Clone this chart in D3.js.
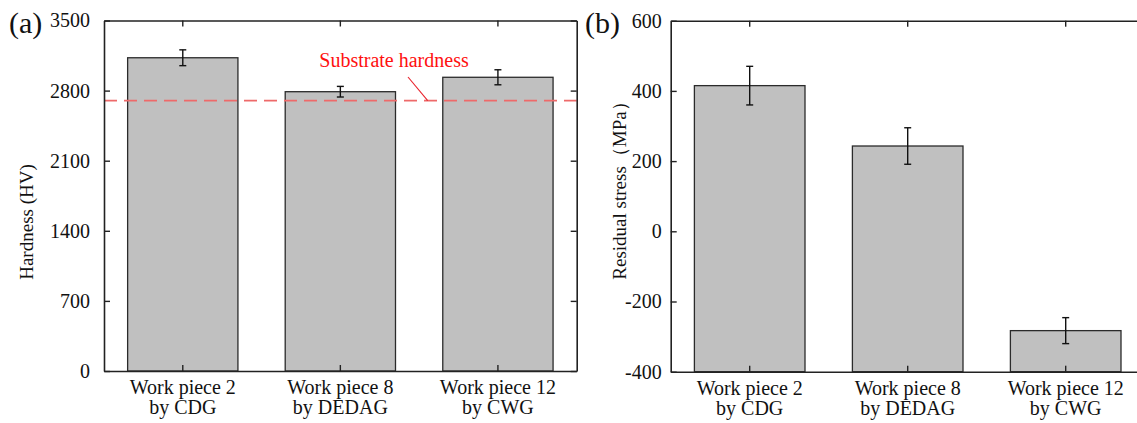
<!DOCTYPE html>
<html><head><meta charset="utf-8">
<script src="https://cdn.jsdelivr.net/npm/d3@7"></script>
<style>body{margin:0;background:#fff}svg{display:block}text{font-family:"Liberation Serif","Times New Roman",serif}</style>
</head><body>
<svg id="c" width="1137" height="423"></svg>
<script>
const categories = ["Work piece 2|by CDG", "Work piece 8|by DEDAG", "Work piece 12|by CWG"];
const hardness = [3128, 2789, 2933];
const hardnessErr = [79, 53, 75];
const substrateHardness = 2700;
const hardnessTicks = [0, 700, 1400, 2100, 2800, 3500];
const stress = [415, 243, -283];
const stressErr = [55, 52, 37];
const stressTicks = [-400, -200, 0, 200, 400, 600];

const svg = d3.select("#c");
const FS = 20;

function panel(o) {
  const g = svg.append("g");
  const x = d3.scaleBand().domain(categories).range([o.left, o.right]).paddingInner(0.3).paddingOuter(0.15);
  const y = d3.scaleLinear().domain(o.domain).range([o.bottom, o.top]);
  const base = o.domain[0];
  // bars
  g.selectAll("rect.bar").data(o.values).join("rect")
    .attr("x", (d,i) => x(categories[i]))
    .attr("width", x.bandwidth())
    .attr("y", d => y(d))
    .attr("height", d => y(base) - y(d))
    .attr("fill", "#c0c0c0").attr("stroke", "#2b2b2b").attr("stroke-width", 1.3);
  // error bars
  const cx = i => x(categories[i]) + x.bandwidth()/2;
  const eg = g.selectAll("g.err").data(o.values).join("g");
  eg.append("line").attr("x1", (d,i)=>cx(i)).attr("x2",(d,i)=>cx(i))
    .attr("y1",(d,i)=>y(d+o.errs[i])).attr("y2",(d,i)=>y(d-o.errs[i]));
  eg.append("line").attr("x1",(d,i)=>cx(i)-3.5).attr("x2",(d,i)=>cx(i)+3.5)
    .attr("y1",(d,i)=>y(d+o.errs[i])).attr("y2",(d,i)=>y(d+o.errs[i]));
  eg.append("line").attr("x1",(d,i)=>cx(i)-3.5).attr("x2",(d,i)=>cx(i)+3.5)
    .attr("y1",(d,i)=>y(d-o.errs[i])).attr("y2",(d,i)=>y(d-o.errs[i]));
  eg.selectAll("line").attr("stroke","#111").attr("stroke-width",1.4);

  if (o.extra) o.extra(g, x, y);

  // axes with inward ticks
  const ax = (axis, tr) => {
    const a = g.append("g").attr("transform", tr).call(axis);
    a.select(".domain").attr("stroke","#222").attr("stroke-width",1.6);
    a.selectAll(".tick line").attr("stroke","#222").attr("stroke-width",1.4);
    return a;
  };
  const left = ax(d3.axisLeft(y).tickValues(o.ticks).tickSizeInner(-6).tickSizeOuter(0)
      .tickPadding(o.pad).tickFormat(d => String(d)), `translate(${o.left},0)`);
  left.selectAll(".tick text").attr("font-size", FS).attr("fill","#111");
  ax(d3.axisRight(y).tickValues(o.ticks).tickSizeInner(-6).tickSizeOuter(0).tickFormat(""), `translate(${o.right},0)`);
  ax(d3.axisTop(x).tickSizeInner(-6).tickSizeOuter(0).tickFormat(""), `translate(0,${o.top})`);
  const bot = ax(d3.axisBottom(x).tickSizeInner(-6).tickSizeOuter(0).tickPadding(4), `translate(0,${o.bottom})`);
  bot.selectAll(".tick text").attr("font-size", FS).attr("fill","#111")
    .text(null).each(function(d){
      const t = d3.select(this); const parts = d.split("|");
      parts.forEach((p,k)=> t.append("tspan").attr("x",0).attr("dy", k===0 ? "0.95em" : "1.0em").text(p));
    });
  // titles
  g.append("text").attr("transform", `translate(${o.titleX},${o.titleY}) rotate(-90)`).attr("text-anchor","middle")
    .attr("font-size", o.titleFS || 19).attr("fill","#111").text(o.title);
  g.append("text").attr("x", o.labX).attr("y", 33).attr("font-size", 30).attr("fill","#111").text(o.lab);
}

panel({left:104, right:576.7, top:20.5, bottom:371, domain:[0,3500], ticks:hardnessTicks, pad:14,
  values:hardness, errs:hardnessErr, title:"Hardness (HV)", titleX:33, titleY:222, labX:9, lab:"(a)",
  extra:(g,x,y)=>{
    g.append("line").attr("x1",104).attr("x2",576.7).attr("y1",y(substrateHardness)).attr("y2",y(substrateHardness))
      .attr("stroke","#ee6a6a").attr("stroke-width",1.6).attr("stroke-dasharray","13,7");
    g.append("line").attr("x1",408).attr("y1",77).attr("x2",427.7).attr("y2",y(substrateHardness))
      .attr("stroke","#e8202a").attr("stroke-width",1.1);
    g.append("text").attr("x",394).attr("y",67).attr("text-anchor","middle").attr("font-size",FS)
      .attr("fill","#ff1010").text("Substrate hardness");
  }});

panel({left:670.7, right:1144.7, top:20.7, bottom:371.7, domain:[-400,600], ticks:stressTicks, pad:9,
  values:stress, errs:stressErr, title:"Residual stress（MPa）", titleX:626, titleY:186, labX:585, lab:"(b)"});
</script>
</body></html>
